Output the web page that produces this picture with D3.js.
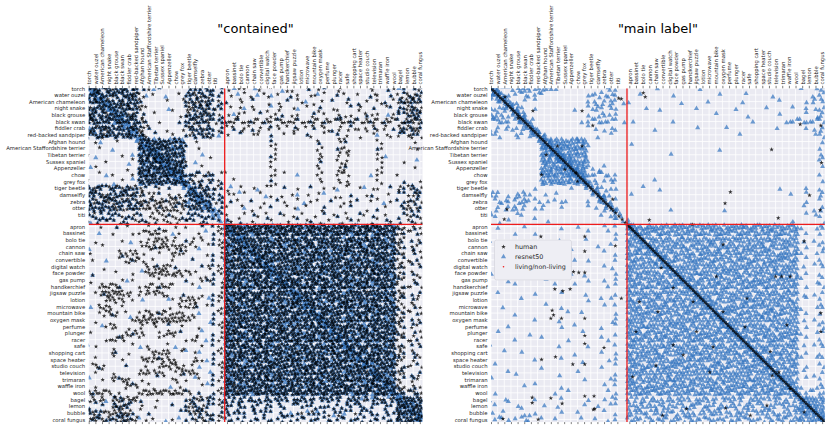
<!DOCTYPE html>
<html>
<head>
<meta charset="utf-8">
<script src="https://cdn.jsdelivr.net/npm/d3@7/dist/d3.min.js"></script>
<style>
  body { margin: 0; background: #fff; }
  text { font-family: "DejaVu Sans", sans-serif; }
</style>
</head>
<body>
<div id="wrapper"></div>
<script>
const categories = ["torch","water ouzel","American chameleon","night snake","black grouse","black swan","fiddler crab","red-backed sandpiper","Afghan hound","American Staffordshire terrier","Tibetan terrier","Sussex spaniel","Appenzeller","chow","grey fox","tiger beetle","damselfly","zebra","otter","titi","apron","bassinet","bolo tie","cannon","chain saw","convertible","digital watch","face powder","gas pump","handkerchief","jigsaw puzzle","lotion","microwave","mountain bike","oxygen mask","perfume","plunger","racer","safe","shopping cart","space heater","studio couch","television","trimaran","waffle iron","wool","bagel","lemon","bubble","coral fungus"]
const livingCount = 20
const titles = ['"contained"', '"main label"']
const legendLabels = ["human", "resnet50", "living/non-living"]

// markers per cell: row = category of the image, column = category it is compared with
const containedHuman = [
  "4535443411 0100123332 1011020101 1020110201 0120110222",
  "5443534520 1000134433 0101102010 1102010110 1021012333",
  "3544353420 0010134343 1020101011 0201101020 1102113443",
  "4453445331 0001044434 0110201020 1010201101 2010112343",
  "5345434520 1000143443 1021010210 1102010211 0211021343",
  "4534354431 0100134344 2322323232 3223232323 2332322444",
  "3445343542 0010133433 1212121121 2112121212 1221213343",
  "4354435341 1001023342 1010110101 1011010110 1010112232",
  "0100100045 4544301000 0000000200 0000200220 0002000010",
  "0010000054 5453410100 0000000200 0000200220 0002000001",
  "1000010045 4545400010 0000000200 0000200220 0002000000",
  "0001000154 5454510000 0000000200 0000200220 0002000100",
  "0100001045 4545410100 0000000200 0000200220 0002000010",
  "0010100154 5454423232 1000000201 0000200220 0002001000",
  "1000010045 4545432323 0100000200 0000200220 0002000101",
  "3433434321 1110023434 1010101101 0101011010 1011012232",
  "4344343431 2121234343 1101010110 1010101101 0110101223",
  "3434434343 3434323434 0110101011 0101101011 1011011232",
  "4343443434 3434234343 1010110101 1010110101 0101101323",
  "3434343433 4343343434 2121212112 1212121221 2121212343",
  "0010101001 0101010103 4543545354 5435453454 3545443121",
  "1000100123 3210100103 5454354545 4545354543 5434542212",
  "0100010012 3322012203 3545454354 5354545435 4545353112",
  "0010000013 3433321013 4354545453 4545435454 5354532121",
  "1000033310 0103310012 4543545354 5435453454 3545443121",
  "0100013320 1001001002 5454354545 4545354543 5434542212",
  "0010000003 3331000123 3545454354 5354545435 4545353112",
  "0100100103 3434331003 4354545453 4545435454 5354532121",
  "1000010100 0100010232 4543545354 5435453454 3545443121",
  "0033310013 2331001002 5454354545 4545354543 5434542212",
  "0134443023 3310100103 3545454354 5354545435 4545353112",
  "0003330100 0001233103 4354545453 4545435454 5354532121",
  "0033010000 0010233012 4543545354 5435453454 3545443121",
  "0023301023 2322301003 5454354545 4545354543 5434542212",
  "0100000344 4344431002 3545454354 5354545435 4545353112",
  "0002301020 2010100103 4354545453 4545435454 5354532121",
  "1000013320 0233101002 4543545354 5435453454 3545443121",
  "0002330010 0100013003 5454354545 4545354543 5434542212",
  "0100100102 0010100102 3545454354 5354545435 4545353112",
  "0000301000 3330101003 4354545453 4545435454 5354532121",
  "0100010023 3332003102 4543545354 5435453454 3545443121",
  "0330001001 0333301003 5454354545 4545354543 5434542212",
  "0100100033 3301333002 3545454354 5354545435 4545353112",
  "0010333010 0003010103 4354545453 4545435454 5354532121",
  "0100003301 1000100102 4543545354 5435453454 3545443121",
  "3333010034 3434330103 5454354545 4545354543 5434543232",
  "3330443410 1000023333 3232323232 2323232323 2323234545",
  "1010443020 1001033323 2121212121 1212121212 2121214545",
  "3333444101 0000133333 2121212121 1212121212 2121215454",
  "3433344301 1001013333 2121212121 1212121212 2121215454"
]

const containedResnet = [
  "4434343410 1100023232 0100100010 0010010001 0100101121",
  "3443434301 0010032323 0010010100 1000100100 0010010112",
  "4343343410 0000023232 1000100001 0010001010 1000102132",
  "3434434300 0010012323 0001000100 0100100001 0010012121",
  "4343343310 0000023232 0100010010 0001000100 0100101232",
  "3434434411 0000132323 1010101010 0101010101 1010101212",
  "4343343411 0000023232 0100100100 1001001001 0010011121",
  "3434434310 1000012323 0010000100 0010000100 0001001111",
  "0010000035 5555500000 0000000100 0000100010 0000000000",
  "0000100055 5555510000 0000000000 0000000100 0001000000",
  "0100000155 5555500100 0000000100 0000000000 0000100000",
  "0000001055 5555501000 0000000000 0000100000 0000000001",
  "1000000055 5555510000 0000000000 0000000010 0000000000",
  "0001000055 5555522121 0000000000 0100000000 0010000000",
  "0000100155 5555521212 0000000100 0000000000 0000000100",
  "3232323201 1010023232 0100010001 0001000100 0100010121",
  "2323232310 0101033333 0010001000 0100010001 0010001112",
  "3232323201 1010133333 0100100010 0010001000 1000101121",
  "4343232310 0101033333 0001000100 0100010001 0001001112",
  "4343323221 1010133334 1010101010 0101010101 1010102121",
  "0000100000 0100000101 5455545554 5545554555 4555451010",
  "0010000000 0001000011 5545554555 4555455545 5545550101",
  "0000001000 0000010001 4555455545 5554555455 5455541011",
  "1000000000 1000000101 5554555455 5455545554 5554550110",
  "0000010000 0000100001 5455545554 5545554555 4555451010",
  "0001000100 0000001001 5545554555 4555455545 5545550101",
  "0000000000 1001000101 4555455545 5554555455 5455541011",
  "0100000010 0000000001 5554555455 5455545554 5554550110",
  "0000001000 0000010011 5455545554 5545554555 4555451010",
  "0000010000 0100000101 5545554555 4555455545 5545550101",
  "0010000000 0000100001 4555455545 5554555455 5455541011",
  "0000000010 0010000011 5554555455 5455545554 5554550110",
  "1000000000 0000001001 5455545554 5545554555 4555451010",
  "0000100000 0100000101 5545554555 4555455545 5545550101",
  "0000001000 0000000011 4555455545 5554555455 5455541011",
  "0010000000 0010000001 5554555455 5455545554 5554550110",
  "0000000100 0000100101 5455545554 5545554555 4555451010",
  "0000010000 0000000011 5545554555 4555455545 5545550101",
  "1000000010 0001000001 4555455545 5554555455 5455541011",
  "0000100000 0000010101 5554555455 5455545554 5554550110",
  "0000000000 0100000011 5455545554 5545554555 4555451010",
  "0010001000 0000000101 5545554555 4555455545 5545550101",
  "0000000000 1000100011 4555455545 5554555455 5455541011",
  "1000010000 0000001001 5554555455 5455545554 5554550110",
  "0000000100 0010000011 5455545554 5545554555 4555451010",
  "0100000000 0000010101 5545554555 4555455545 5545552121",
  "2101121010 0000012122 3232323232 2323232323 3232325454",
  "1010222000 0001012121 2121212121 1212121212 2121215454",
  "2120121101 0000121212 2121212121 2121212121 2121214545",
  "1212222010 0010112121 2121212121 1212121212 2121215454"
]

const mainResnet = [
  "3312233332 1000000121 0000100000 0100000000 1000001012",
  "3321121210 0000022221 0010000100 0000100010 0010000012",
  "2232110100 0000012222 1000000010 0010000100 0001000122",
  "1223210100 0001022121 0001010000 1000001000 0100010112",
  "2221320000 0000011211 0000000000 0001000010 0001000112",
  "2321232000 0000122222 0100000100 0000000001 0000222222",
  "2212123100 0000011111 0000100000 1000010000 0010000112",
  "1200212310 0000001010 0000000000 0000000100 0000000012",
  "0000000045 5555500000 1000000000 0000000000 0000000001",
  "0000000055 5555510000 0000000000 0000100000 0000000001",
  "0000000055 5555500000 0000001000 0000000000 0000000002",
  "0000000055 5555510000 0000000000 0000000000 0000000001",
  "0000000055 5555521100 0000000000 0000000000 0000000001",
  "0000000055 5555522211 0000000000 0000000000 0000000001",
  "0000000055 5555512121 0000100000 0000000000 0000000001",
  "0000000100 0010011211 0010010000 0000000000 0001000101",
  "2201321010 1000001110 1000000000 0000000000 0000100102",
  "1221231201 1200010101 0000000000 0000000000 0000000101",
  "2212220120 0100011101 0000001000 0000100000 0000001012",
  "1201110101 0000000111 0000000000 0000000000 0000010112",
  "0100010000 0101000101 4434443444 3444344434 4434441012",
  "0000100100 0000010011 3444344434 4434443444 3444340101",
  "1000001000 1000100001 4443444344 4344434443 4443441011",
  "0001000010 0010001010 4344434443 4443444344 4344430102",
  "0100010000 0100000101 4434443444 3444344434 4434441011",
  "0000100001 0001010001 3444344434 4434443444 3444340101",
  "0010000100 1000000110 4443444344 4344434443 4443441012",
  "1000001000 0010100001 4344434443 4443444344 4344430101",
  "0001000010 0000010101 4434443444 3444344434 4434441011",
  "0000100000 1001000011 3444344434 4434443444 3444340102",
  "0100000100 0100100001 4443444344 4344434443 4443441011",
  "0000010000 0000010110 4344434443 4443444344 4344430101",
  "0010000010 0100000101 4434443444 3444344434 4434441012",
  "1000100000 0010100001 3444344434 4434443444 3444340101",
  "0000000100 1000000011 4443444344 4344434443 4443441011",
  "0001000000 0101000101 4344434443 4443444344 4344430102",
  "0100001000 0000100001 4434443444 3444344434 4434441011",
  "0000100010 0010000110 3444344434 4434443444 3444340101",
  "1000000000 1000010001 4443444344 4344434443 4443441012",
  "0010010000 0001000101 4344434443 4443444344 4344430101",
  "0000000100 0100100011 4434443444 3444344434 4434441011",
  "0100000010 0000000101 3444344434 4434443444 3444340102",
  "0001100000 1001000001 4443444344 4344434443 4443441011",
  "1000000000 0000100011 4344434443 4443444344 4344430101",
  "0000010100 0100000101 4434443444 3444344434 4434441012",
  "0100000000 1010000011 3444344434 4434443444 3444341212",
  "1011000100 0100010111 3232323232 2323232323 3232324545",
  "0100110010 1000101011 2323232323 3232323232 2323235454",
  "1010011100 0101000101 3232323232 2323232323 3232324545",
  "0211121010 1000101011 2323232323 3232323232 2323235454"
]

// markers on the diagonal of each category (image compared with its own class)
const containedResnetDiag = "8888888899 9999988888 6666666666 6666666666 6666666666"
const mainResnetDiag = "8888888899 9999988888 5555555555 5555555555 5555555555"
const mainHumanDiag = "4444444444 4444444444 4444444444 4444444444 4444444444"

// scattered human marks in "main label", [row, column] in tick units
const mainHuman = [
  [1.3,2.1],[3.4,6.3],[4.5,4.1],[3.4,13.7],[5.6,15.3],[1.5,19.2],[10,8.3],[8.7,10],[12.7,12.8],[12.2,11.1],
  [13,7.6],[16.7,18.3],[18.2,2.4],[19.7,2],[14,13],[8.7,13.7],
  [0.7,22.9],[1.3,23.2],[1.6,19.6],[5.4,46.5],[5.6,49.6],[9.2,42.2],[11.2,49.7],[15.6,36],[17.3,35.2],
  [19.8,23.8],[19.5,43.2],[16.1,47.9],[18.3,49.5],
  [22.3,7.5],[22.3,14.1],[24.5,14.1],[27.6,12.4],[27.7,13.2],[27.7,14.1],[27.7,7.2],[30.2,9.6],[30.5,10.8],
  [30.2,11.9],[33.4,9.2],[34.1,9.4],[34.6,9],[34.6,10.6],[34.6,14.1],[37.2,14.1],[38.4,14.1],[40.4,9.7],
  [40.8,7.6],[41.5,12.3],[41.5,14.1],[46.5,6.2],[47.3,6.2],[46.6,9],[47.4,10.7],[46.3,14.1],[46.3,15.5],
  [48.3,15.4],[49.7,1.8],[49.8,7.1],
  [20.5,30.3],[28.3,33.9],[28.3,42.8],[28.3,43.7],[33.6,34.9],[33.6,25.1],[35.9,38.2],[38.6,27.4],[43.4,21.3],
  [38.9,33.4],[48.7,47.1],[48.1,35.3],[48.2,29.4],[43.2,42.3],[42.7,43.3],[47.7,41.5],[28.3,45],[36.6,49.6],
  [33.8,49.6],[27,25.6],[36.6,21.8],[36.6,30.9],[31.6,38.5],[39.6,42],[41.7,24.8],[23,47.1],[23.5,34.9],
  [35.6,44.5],[40.1,28.9],[42.7,32.9],[32.1,22.3],[30,27.4],[45.2,45],[49.2,39],[49.2,25.8],[32.1,30.4],
  [23.7,18.7],[39,17],[31.6,19.6],[48.2,15.6]
]

const blue = "#3274bf"
const red = "#ee1c1c"
const ink = "#262626"

// tick position of each category (living ones are slightly narrower)
const tickUnit = i => i < livingCount ? i : i + 0.8
const boundary = 20.45
const cellLo = i => i < 19 ? i - 0.5 : i === 19 ? 18.5 : i === 20 ? boundary : i + 0.3
const cellHi = i => i < 19 ? i + 0.5 : i === 19 ? boundary : i + 1.3
const cellMid = i => (cellLo(i) + cellHi(i)) / 2
const cellSpan = i => cellHi(i) - cellLo(i)

// fixed, evenly spread spots inside a cell
const cellSpots = [[0.25,0.07],[0.01,-0.36],[-0.24,0.21],[-0.48,-0.22],[0.27,0.35],[0.03,-0.08],
  [-0.22,0.49],[-0.46,0.06],[0.29,-0.37],[0.05,0.2],[-0.2,-0.23],[-0.44,0.34],[0.31,-0.09],[0.07,0.48],
  [-0.18,0.05],[-0.42,-0.38],[0.33,0.19],[0.09,-0.24],[-0.16,0.33],[-0.4,-0.1],[0.35,0.47],[0.11,0.04],
  [-0.14,-0.39],[-0.38,0.18]]
const bandSpots = [0, 0.55, -0.55, 0.25, -0.85, 0.85, -0.25, 0.4, -0.4]

const digits = s => s.replace(/ /g, "").split("").map(Number)

function cellPoints(rows) {
  const pts = []
  rows.map(digits).forEach((row, r) => row.forEach((n, c) => {
    const start = (r * 11 + c * 17 + r * c * 3) % cellSpots.length
    for (let k = 0; k < n; k++) {
      const o = cellSpots[(start + k) % cellSpots.length]
      pts.push({ x: cellMid(c) + o[0] * 0.92 * cellSpan(c), y: cellMid(r) + o[1] * 0.92 * cellSpan(r) })
    }
  }))
  return pts
}

function diagPoints(counts, wLiving, wOther) {
  const pts = []
  digits(counts).forEach((n, i) => {
    const w = i < livingCount ? wLiving : wOther
    for (let k = 0; k < n; k++) {
      const pos = cellLo(i) + (k + 0.5) / n * cellSpan(i)
      pts.push({ x: pos + bandSpots[k % bandSpots.length] * w, y: pos })
    }
  })
  return pts
}

const panels = [
  {
    left: 88.7,
    resnet: cellPoints(containedResnet).concat(diagPoints(containedResnetDiag, 0.9, 0.6)),
    human: cellPoints(containedHuman)
  },
  {
    left: 491,
    resnet: cellPoints(mainResnet).concat(diagPoints(mainResnetDiag, 0.9, 0.5)),
    human: mainHuman.map(d => ({ x: d[1], y: d[0] })).concat(diagPoints(mainHumanDiag, 0, 0)),
    legend: true
  }
]

let dimensions = { width: 831, height: 431, top: 88.3, size: 333.8 }

const svg = d3.select("#wrapper")
  .append("svg")
    .attr("width", dimensions.width)
    .attr("height", dimensions.height)

const triangle = d3.symbol(d3.symbolTriangle, 11.5)()
const star = d3.symbol(d3.symbolStar, 6.5)()
const ticks = d3.range(categories.length).map(tickUnit)

panels.forEach((p, idx) => {
  const xScale = d3.scaleLinear()
    .domain([0, 50.2])
    .range([p.left, p.left + dimensions.size])
  const yScale = d3.scaleLinear()
    .domain([0, 50.2])
    .range([dimensions.top, dimensions.top + dimensions.size])

  const clipId = "clip" + idx
  svg.append("clipPath").attr("id", clipId)
    .append("rect")
      .attr("x", p.left).attr("y", dimensions.top)
      .attr("width", dimensions.size).attr("height", dimensions.size)

  svg.append("rect")
      .attr("x", p.left).attr("y", dimensions.top)
      .attr("width", dimensions.size).attr("height", dimensions.size)
      .attr("fill", "#eaeaf2")

  const grid = svg.append("g").attr("stroke", "#fff").attr("stroke-width", 0.8)
  grid.selectAll("line.v").data(ticks).join("line")
      .attr("class", "v")
      .attr("x1", d => xScale(d)).attr("x2", d => xScale(d))
      .attr("y1", dimensions.top).attr("y2", dimensions.top + dimensions.size)
  grid.selectAll("line.h").data(ticks).join("line")
      .attr("class", "h")
      .attr("y1", d => yScale(d)).attr("y2", d => yScale(d))
      .attr("x1", p.left).attr("x2", p.left + dimensions.size)

  const marks = svg.append("g").attr("clip-path", `url(#${clipId})`)
  marks.selectAll("path.tri").data(p.resnet).join("path")
      .attr("class", "tri")
      .attr("d", triangle)
      .attr("transform", d => `translate(${xScale(d.x).toFixed(2)},${yScale(d.y).toFixed(2)})`)
      .attr("fill", blue)
      .attr("fill-opacity", 0.7)
  marks.selectAll("path.star").data(p.human).join("path")
      .attr("class", "star")
      .attr("d", star)
      .attr("transform", d => `translate(${xScale(d.x).toFixed(2)},${yScale(d.y).toFixed(2)})`)
      .attr("fill", "#000")
      .attr("fill-opacity", 0.8)

  // living / non-living split
  marks.append("line")
      .attr("x1", xScale(boundary)).attr("x2", xScale(boundary))
      .attr("y1", dimensions.top).attr("y2", dimensions.top + dimensions.size)
      .attr("stroke", red).attr("stroke-width", 1.3)
  marks.append("line")
      .attr("y1", yScale(boundary)).attr("y2", yScale(boundary))
      .attr("x1", p.left).attr("x2", p.left + dimensions.size)
      .attr("stroke", red).attr("stroke-width", 1.3)

  const xAxisTop = svg.append("g")
      .attr("transform", `translate(0,${dimensions.top})`)
      .call(d3.axisTop(xScale).tickValues(ticks).tickFormat((d, i) => categories[i]).tickSize(2.5).tickPadding(1))
  xAxisTop.select(".domain").remove()
  xAxisTop.selectAll("text")
      .attr("transform", "rotate(-90)")
      .attr("x", 3.8).attr("y", 0).attr("dy", "0.35em")
      .style("text-anchor", "start")

  const xAxisBottom = svg.append("g")
      .attr("transform", `translate(0,${dimensions.top + dimensions.size})`)
      .call(d3.axisBottom(xScale).tickValues(ticks).tickFormat("").tickSize(2))
  xAxisBottom.select(".domain").remove()

  const yAxis = svg.append("g")
      .attr("transform", `translate(${p.left},0)`)
      .call(d3.axisLeft(yScale).tickValues(ticks).tickFormat((d, i) => categories[i]).tickSize(0).tickPadding(3.5))
  yAxis.select(".domain").remove()

  ;[xAxisTop, xAxisBottom, yAxis].forEach(a => a
      .attr("font-family", "DejaVu Sans, sans-serif")
      .attr("font-size", 5.3)
      .attr("color", ink)
      .selectAll("line").attr("stroke-width", 0.6))

  svg.append("text")
      .attr("x", p.left + dimensions.size / 2)
      .attr("y", 33)
      .attr("text-anchor", "middle")
      .attr("font-size", 13)
      .attr("fill", "#000")
      .text(titles[idx])

  if (p.legend) {
    const lg = svg.append("g").attr("transform", `translate(${p.left + 3.5},240)`)
    lg.append("rect")
        .attr("width", 77).attr("height", 40).attr("rx", 2)
        .attr("fill", "#eeeef4").attr("stroke", "#d0d0d8").attr("stroke-width", 0.6)
    const rows = lg.selectAll("g.item").data(legendLabels).join("g")
        .attr("class", "item")
        .attr("transform", (d, i) => `translate(9,${6.8 + i * 10})`)
    rows.filter((d, i) => i === 0).append("path").attr("d", star).attr("fill", "#000").attr("fill-opacity", 0.8)
    rows.filter((d, i) => i === 1).append("path").attr("d", triangle).attr("fill", blue).attr("fill-opacity", 0.7)
    rows.filter((d, i) => i === 2).append("circle").attr("r", 0.8).attr("fill", red)
    rows.append("text")
        .attr("x", 11.5).attr("dy", "0.35em")
        .attr("font-size", 6.4)
        .attr("fill", ink)
        .text(d => d)
  }
})
</script>
</body>
</html>
